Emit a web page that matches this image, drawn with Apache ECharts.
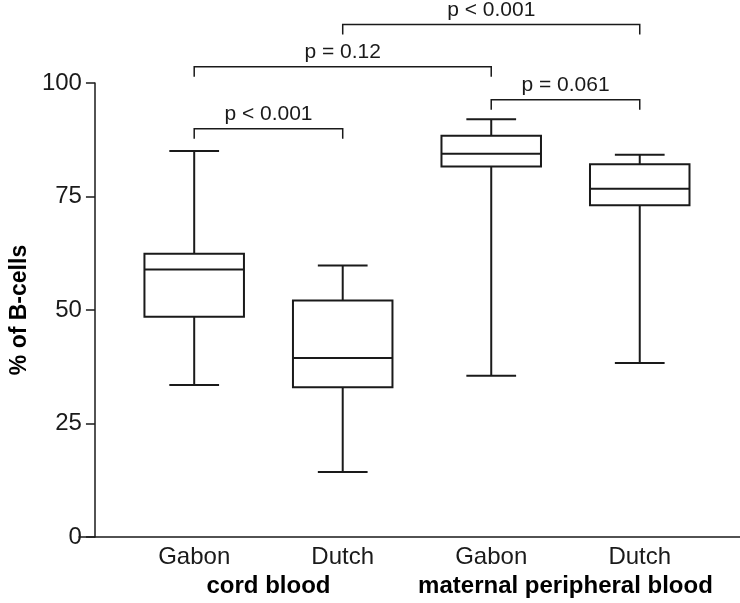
<!DOCTYPE html>
<html>
<head>
<meta charset="utf-8">
<script src="https://cdn.jsdelivr.net/npm/echarts@6/dist/echarts.min.js"></script>
<style>
html,body{margin:0;padding:0;background:#fff;}
#chart{width:740px;height:603px;}
</style>
</head>
<body>
<div id="chart"></div>
<script>
var categories = ['Gabon', 'Dutch', 'Gabon', 'Dutch'];
var groups = ['cord blood', 'maternal peripheral blood'];
var whiskerLow = [33.5, 14.3, 35.5, 38.3];
var q1 = [48.5, 33.0, 81.6, 73.1];
var medians = [58.9, 39.4, 84.4, 76.7];
var q3 = [62.4, 52.1, 88.4, 82.1];
var whiskerHigh = [85.0, 59.8, 92.0, 84.2];
var yTicks = [0, 25, 50, 75, 100];

// brackets: [from category, to category, level (y value), label]
var bracketFrom = [0, 2, 0, 1];
var bracketTo = [1, 3, 2, 3];
var bracketLevel = [89.9, 96.3, 103.6, 112.9];
var bracketLabels = ['p < 0.001', 'p = 0.061', 'p = 0.12', 'p < 0.001'];

var FONT = '"Liberation Sans", Arial, Helvetica, sans-serif';
var INK = '#1a1a1a';

var boxData = categories.map(function (c, i) {
  return [i, whiskerLow[i], q1[i], medians[i], q3[i], whiskerHigh[i]];
});
var bracketData = bracketFrom.map(function (f, i) {
  return [f, bracketTo[i], bracketLevel[i]];
});

var chart = echarts.init(document.getElementById('chart'), null, {renderer: 'canvas'});
chart.setOption({
  backgroundColor: '#fff',
  animation: false,
  grid: [
    {left: 104, right: 26, top: 83, bottom: 66},
    {left: 79, right: 0, top: 83, bottom: 66}
  ],
  xAxis: [
    {
      type: 'category', gridIndex: 0, data: categories, boundaryGap: true,
      axisLine: {show: false}, axisTick: {show: false}, splitLine: {show: false},
      axisLabel: {interval: 0, fontFamily: FONT, fontSize: 24, color: INK, margin: 8}
    },
    {
      type: 'category', gridIndex: 0, data: groups, position: 'bottom', offset: 29,
      axisLine: {show: false}, axisTick: {show: false}, splitLine: {show: false},
      axisLabel: {interval: 0, fontFamily: FONT, fontSize: 24, fontWeight: 'bold', color: '#000', margin: 8}
    },
    {
      type: 'value', gridIndex: 1, min: 0, max: 1, show: true,
      axisLine: {show: true, lineStyle: {color: INK, width: 1.5}},
      axisTick: {show: false}, axisLabel: {show: false}, splitLine: {show: false}
    }
  ],
  yAxis: [
    {
      type: 'value', gridIndex: 0, min: 0, max: 100, interval: 25, offset: 25,
      name: '% of B-cells', nameLocation: 'middle', nameGap: 57, nameRotate: 90,
      nameTextStyle: {fontFamily: FONT, fontSize: 23, fontWeight: 'bold', color: '#000'},
      axisLine: {show: true, lineStyle: {color: INK, width: 1.5}},
      axisTick: {show: true, length: 9, inside: false, lineStyle: {color: INK, width: 1.5}},
      axisLabel: {fontFamily: FONT, fontSize: 24, color: INK, margin: 13},
      splitLine: {show: false}
    },
    {
      type: 'value', gridIndex: 1, min: 0, max: 1, show: false
    }
  ],
  series: [
    {
      type: 'custom',
      xAxisIndex: 0, yAxisIndex: 0,
      data: boxData,
      encode: {x: 0, y: [1, 2, 3, 4, 5]},
      clip: false,
      renderItem: function (params, api) {
        var x = api.value(0);
        var pLow = api.coord([x, api.value(1)]);
        var pQ1 = api.coord([x, api.value(2)]);
        var pMed = api.coord([x, api.value(3)]);
        var pQ3 = api.coord([x, api.value(4)]);
        var pHigh = api.coord([x, api.value(5)]);
        var band = api.size([1, 0])[0];
        var hw = band * 0.335;
        var cw = hw / 2;
        var cx = pMed[0];
        var st = {stroke: INK, lineWidth: 2, fill: null};
        return {
          type: 'group',
          children: [
            {type: 'line', shape: {x1: cx, y1: pHigh[1], x2: cx, y2: pQ3[1]}, style: st},
            {type: 'line', shape: {x1: cx, y1: pLow[1], x2: cx, y2: pQ1[1]}, style: st},
            {type: 'line', shape: {x1: cx - cw, y1: pHigh[1], x2: cx + cw, y2: pHigh[1]}, style: st},
            {type: 'line', shape: {x1: cx - cw, y1: pLow[1], x2: cx + cw, y2: pLow[1]}, style: st},
            {type: 'rect', shape: {x: cx - hw, y: pQ3[1], width: hw * 2, height: pQ1[1] - pQ3[1]}, style: {stroke: INK, lineWidth: 2, fill: '#fff'}},
            {type: 'line', shape: {x1: cx - hw, y1: pMed[1], x2: cx + hw, y2: pMed[1]}, style: st}
          ]
        };
      }
    },
    {
      type: 'custom',
      xAxisIndex: 0, yAxisIndex: 0,
      data: bracketData,
      encode: {x: [0, 1], y: 2},
      clip: false,
      renderItem: function (params, api) {
        var y = api.value(2);
        var a = api.coord([api.value(0), y]);
        var b = api.coord([api.value(1), y]);
        var drop = 10;
        var label = bracketLabels[params.dataIndex];
        return {
          type: 'group',
          children: [
            {type: 'polyline', shape: {points: [[a[0], a[1] + drop], [a[0], a[1]], [b[0], b[1]], [b[0], b[1] + drop]]},
             style: {stroke: INK, lineWidth: 1.5, fill: null}},
            {type: 'text', x: (a[0] + b[0]) / 2, y: a[1] - 4,
             style: {text: label, fontFamily: FONT, fontSize: 21, fill: INK, align: 'center', verticalAlign: 'bottom'}}
          ]
        };
      }
    }
  ]
});
</script>
</body>
</html>
